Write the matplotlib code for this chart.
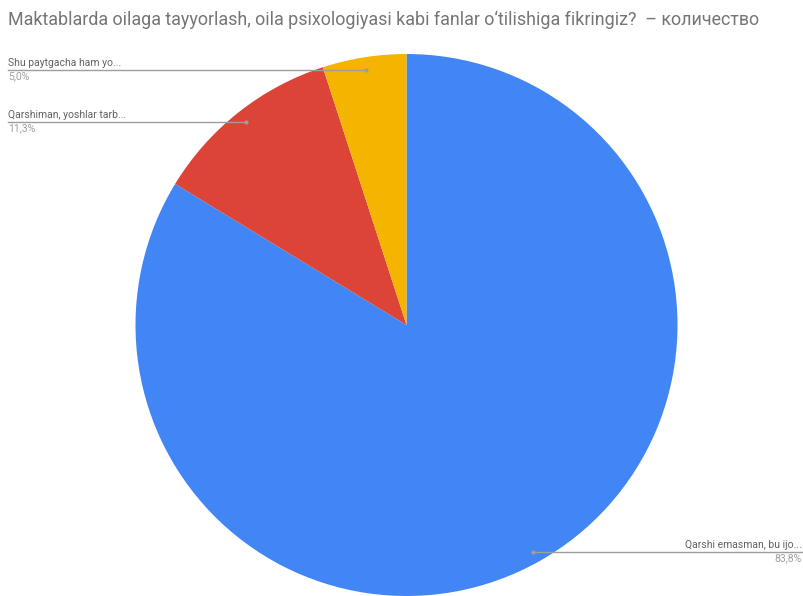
import numpy as np
import matplotlib
matplotlib.use("Agg")
import matplotlib.pyplot as plt

title = "Maktablarda oilaga tayyorlash, oila psixologiyasi kabi fanlar o‘tilishiga fikringiz?  – количество"
labels = ["Qarshi emasman, bu ijo...", "Qarshiman, yoshlar tarb...", "Shu paytgacha ham yo..."]
values = [83.8, 11.3, 5.0]
pct_labels = ["83,8%", "11,3%", "5,0%"]
colors = ["#4285F4", "#DB4437", "#F4B400"]

W, H = 804, 596
fig = plt.figure(figsize=(W / 100, H / 100), dpi=100)
ax = fig.add_axes([0, 0, 1, 1])

cx, cy, R = 406.5, H - 325, 271
wedges, _ = ax.pie(values, colors=colors, startangle=90, counterclock=False,
                   center=(cx, cy), radius=R, frame=True,
                   wedgeprops=dict(linewidth=0))
ax.set_xlim(0, W)
ax.set_ylim(0, H)
ax.set_aspect("equal")
ax.axis("off")

fam = ["Roboto", "DejaVu Sans"]
fig.text(8 / W, 1 - 20 / H, title, fontsize=12.9, color="#757575", family=fam,
         va="center", ha="left")

# label rows (pixel y of the leader line)
line_y = {0: 552, 1: 122, 2: 70}
for i, w in enumerate(wedges):
    mid = np.deg2rad((w.theta1 + w.theta2) / 2)
    dx = cx + 0.953 * R * np.cos(mid)
    dy = cy + 0.953 * R * np.sin(mid)
    ly = H - line_y[i]
    if dx > cx:
        x0, x1, tx, ha = dx, 802, 802, "right"
    else:
        x0, x1, tx, ha = 8, dx, 8, "left"
    ax.plot([x0, x1], [ly, ly], color="#9e9e9e", lw=1, zorder=5)
    ax.plot([dx], [ly], "o", ms=2, color="#9e9e9e", zorder=6)
    ax.text(tx, ly + 2, labels[i], fontsize=7.5, color="#616161", family=fam,
            ha=ha, va="bottom")
    ax.text(tx, ly - 1.5, pct_labels[i], fontsize=7.5, color="#9e9e9e", family=fam,
            ha=ha, va="top")

fig.savefig("out.png", dpi=100, facecolor="white")
